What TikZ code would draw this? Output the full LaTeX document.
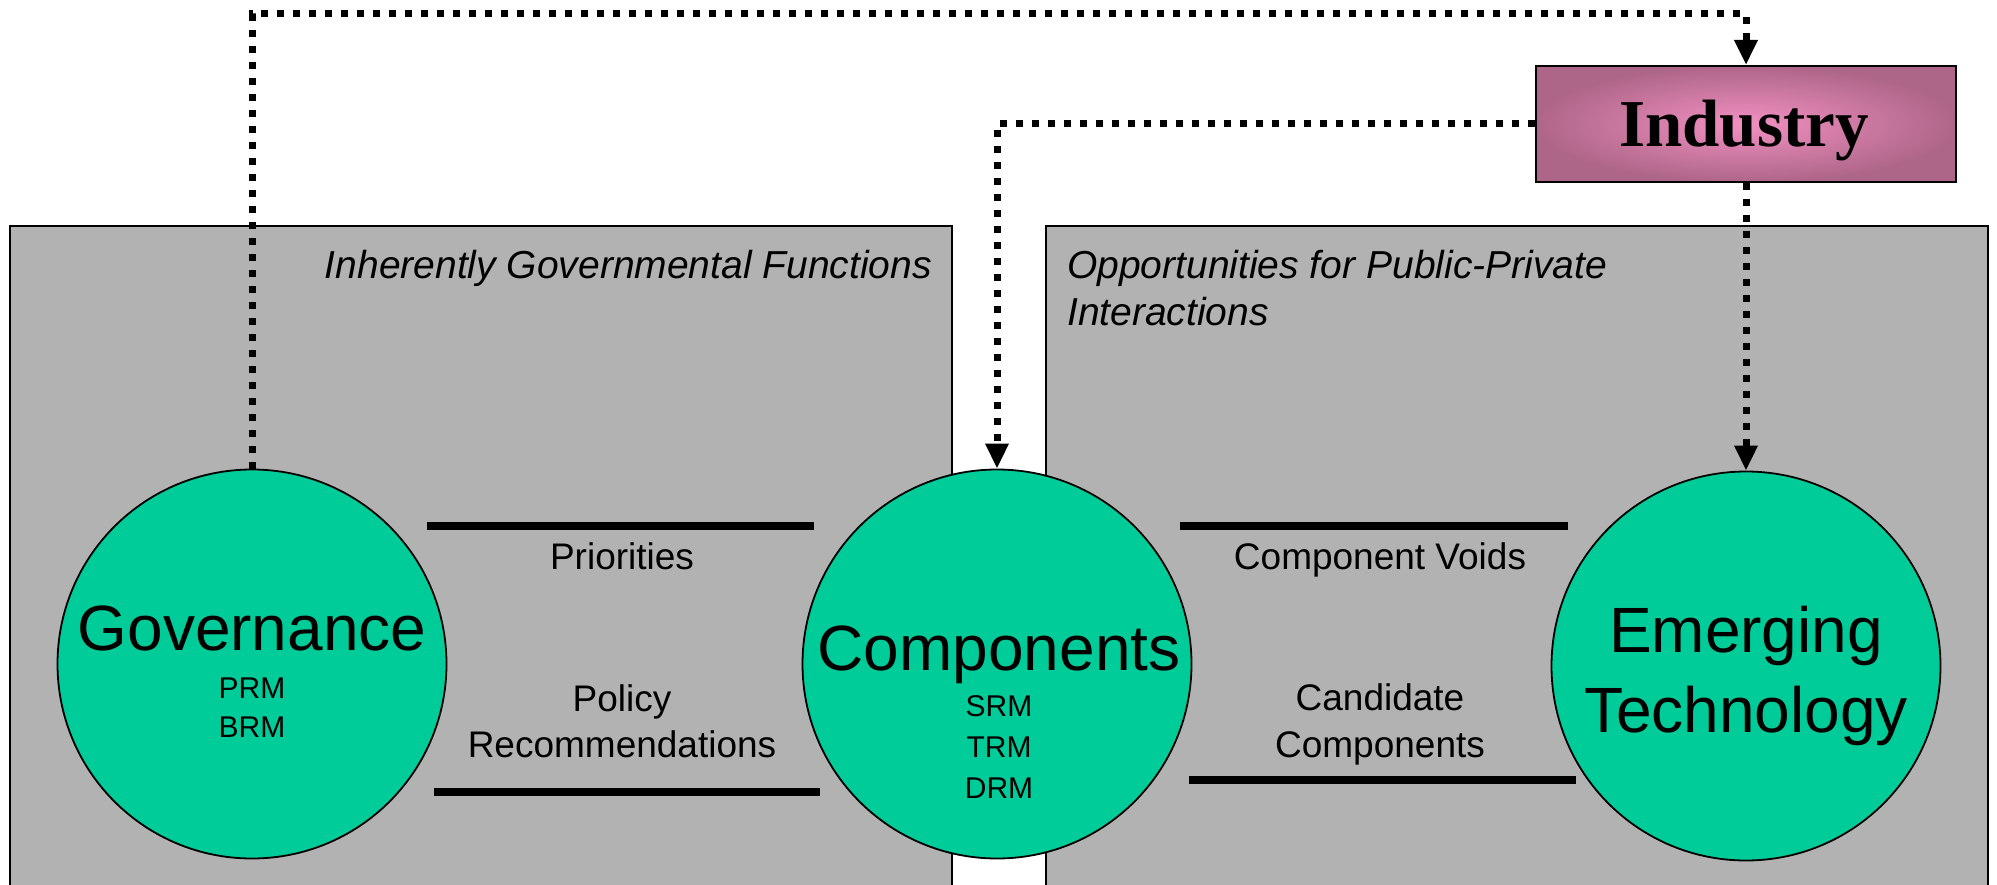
\documentclass[tikz,border=0pt]{standalone}
\usepackage{fontspec}
\setmainfont{Liberation Sans}
\newfontfamily\indfont{Liberation Serif}
\usetikzlibrary{arrows.meta}
\definecolor{boxgray}{RGB}{178,178,178}
\definecolor{circgreen}{RGB}{0,204,153}
\definecolor{pinkin}{RGB}{242,144,194}
\definecolor{pinkout}{RGB}{174,102,136}
\begin{document}
\begin{tikzpicture}[x=1pt,y=-1pt,
  region/.style={draw=black, line width=2pt, fill=boxgray},
  bubble/.style={circle, draw=black, line width=1.8pt, fill=circgreen, minimum size=389pt, inner sep=0pt},
  lbl/.style={anchor=base, inner sep=0pt, font=\fontsize{37}{44}\selectfont},
  sublbl/.style={anchor=base, inner sep=0pt, font=\fontsize{30}{36}\selectfont},
  bigtxt/.style={anchor=base, inner sep=0pt, font=\fontsize{64}{77}\selectfont},
  titletxt/.style={inner sep=0pt, font=\fontsize{39}{46}\selectfont\itshape},
  bar/.style={line width=8pt, black},
  dotline/.style={line width=7pt, dash pattern=on 7pt off 9pt, black},
  dotarrow/.style={dotline, -{Triangle[length=25pt,width=22pt]}},
  indbox/.style={draw=black, line width=2pt, inner color=pinkin, outer color=pinkout,
    minimum width=420pt, minimum height=116pt, inner sep=0pt}
]
\useasboundingbox (0,0) rectangle (1997,885);
\clip (0,0) rectangle (1997,885);
\fill[white] (0,0) rectangle (1997,885);

% regions
\draw[region] (10,226) rectangle (952,900);
\draw[region] (1046,226) rectangle (1988,900);
\node[titletxt, anchor=base east] (ttl1) at (932,279) {Inherently Governmental Functions};
\node[titletxt, anchor=base west] (ttl2a) at (1067,279) {Opportunities for Public-Private};
\node[titletxt, anchor=base west] (ttl2b) at (1067,325) {Interactions};

% circles
\node[bubble] (gov) at (252,664) {};
\node[bubble] (comp) at (997,664) {};
\node[bubble] (emer) at (1746,666) {};

\node[bigtxt] (govt) at (252,650) {Governance};
\node[sublbl] (prm) at (252,698) {PRM};
\node[sublbl] (brm) at (252,737) {BRM};

\node[bigtxt] (compt) at (999,670) {Components};
\node[sublbl] (srm) at (999,716) {SRM};
\node[sublbl] (trm) at (999,757) {TRM};
\node[sublbl] (drm) at (999,798) {DRM};

\node[bigtxt] (emt1) at (1746,652) {Emerging};
\node[bigtxt] (emt2) at (1746,732) {Technology};

% bars and labels
\draw[bar] (427,526) -- (814,526);
\draw[bar] (434,792) -- (820,792);
\draw[bar] (1180,526) -- (1568,526);
\draw[bar] (1189,780) -- (1576,780);

\node[lbl] (pri) at (622,569) {Priorities};
\node[lbl] (pol1) at (622,711) {Policy};
\node[lbl] (pol2) at (622,757) {Recommendations};
\node[lbl] (cv) at (1380,569) {Component Voids};
\node[lbl] (cc1) at (1380,710) {Candidate};
\node[lbl] (cc2) at (1380,757) {Components};

% industry
\node[indbox] (ind) at (1746,124) {};
\node[anchor=base, inner sep=0pt, font=\indfont\bfseries\fontsize{67}{80}\selectfont] (indt) at (1744,147) {Industry};

% connectors
\coordinate (toprow) at (0,14);
\draw[dotarrow] (gov.north) |- (toprow -| ind.north) -- (ind.north);
\draw[dotarrow] (ind.west) -| (comp.north);
\draw[dotarrow] (ind.south) -- (emer.north);
\end{tikzpicture}
\end{document}
